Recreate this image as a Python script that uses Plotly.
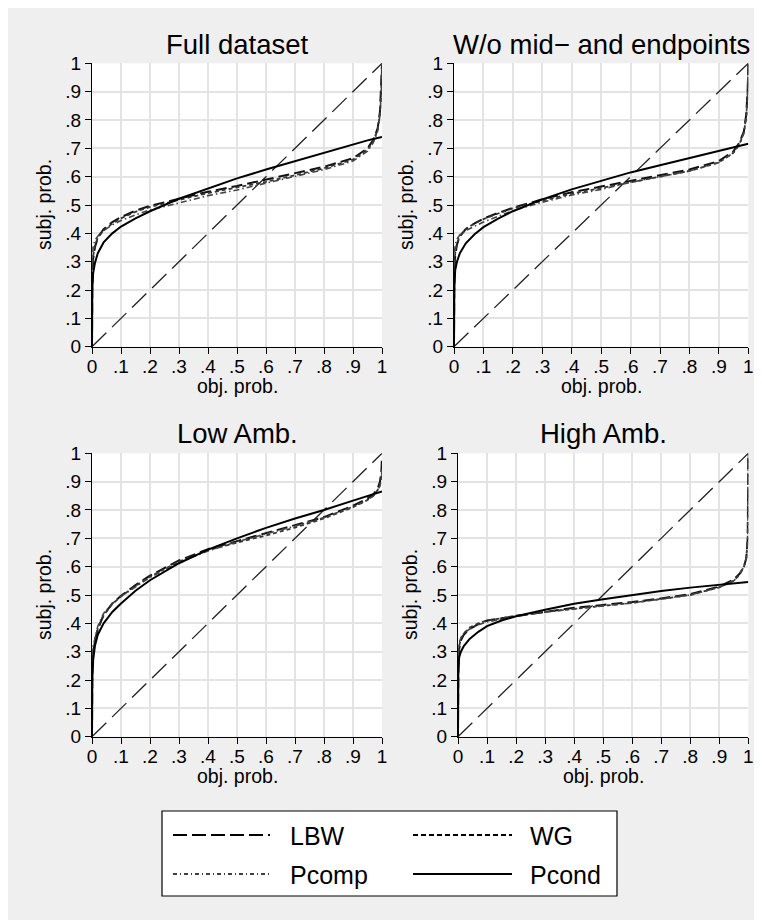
import plotly.graph_objects as go

# ---------------- data ----------------
X = [0, 0.001, 0.004, 0.01, 0.02, 0.04, 0.07, 0.1, 0.15, 0.2, 0.3, 0.4, 0.5,
     0.6, 0.7, 0.8, 0.9, 0.95, 0.97, 0.985, 0.993, 0.998, 1.0]

PANEL_TITLES = ["Full dataset", "W/o mid\u2212 and endpoints", "Low Amb.", "High Amb."]
SERIES = ["LBW", "WG", "Pcomp", "Pcond"]
X_TITLE = "obj. prob."
Y_TITLE = "subj. prob."

FULL_LBW = [0, .22, .31, .35, .385, .415, .44, .457, .48, .497, .522, .547, .567, .59, .612, .635, .665, .70, .73, .77, .83, .92, 1.0]
FULL_WG = [0, .24, .32, .355, .385, .41, .435, .453, .476, .493, .518, .542, .562, .582, .605, .63, .66, .695, .725, .765, .82, .91, 1.0]
FULL_PCOMP = [0, .30, .355, .375, .39, .41, .43, .445, .465, .483, .507, .533, .553, .577, .60, .625, .655, .69, .72, .76, .82, .91, 1.0]
FULL_PCOND = [0, .20, .26, .295, .33, .368, .40, .424, .453, .478, .522, .559, .594, .625, .655, .685, .715, .728, .733, .736, .738, .739, .74]

WO_LBW = [0, .24, .32, .36, .39, .415, .435, .452, .472, .49, .52, .545, .565, .585, .605, .625, .655, .69, .72, .76, .82, .91, 1.0]
WO_WG = [0, .25, .33, .365, .39, .415, .435, .45, .47, .488, .515, .54, .56, .58, .60, .62, .65, .685, .715, .755, .81, .90, 1.0]
WO_PCOMP = [0, .32, .36, .38, .395, .41, .425, .44, .46, .48, .51, .535, .555, .58, .60, .62, .65, .685, .715, .755, .81, .90, 1.0]
WO_PCOND = [0, .20, .27, .30, .33, .365, .397, .422, .452, .478, .52, .555, .585, .615, .64, .665, .69, .703, .708, .712, .714, .715, .716]

LOW_LBW = [0, .23, .30, .34, .38, .43, .47, .497, .535, .568, .622, .662, .69, .718, .745, .775, .815, .84, .855, .875, .90, .94, .99]
LOW_WG = [0, .23, .30, .34, .38, .428, .468, .495, .532, .565, .618, .658, .685, .71, .738, .77, .81, .835, .85, .87, .89, .92, .96]
LOW_PCOMP = [0, .26, .32, .35, .39, .435, .47, .495, .53, .562, .615, .655, .688, .715, .743, .773, .812, .835, .85, .868, .885, .91, .94]
LOW_PCOND = [0, .20, .27, .32, .36, .40, .44, .47, .515, .552, .612, .66, .70, .737, .77, .80, .833, .848, .854, .859, .862, .864, .865]

HIGH_LBW = [0, .25, .31, .34, .36, .38, .397, .41, .418, .425, .44, .455, .465, .475, .488, .503, .53, .555, .575, .60, .63, .70, 1.0]
HIGH_WG = [0, .26, .32, .345, .365, .385, .40, .41, .418, .427, .44, .452, .462, .472, .486, .50, .527, .55, .572, .60, .63, .70, 1.0]
HIGH_PCOMP = [0, .30, .33, .35, .365, .38, .395, .405, .415, .425, .44, .45, .462, .472, .486, .50, .527, .55, .572, .60, .63, .70, 1.0]
HIGH_PCOND = [0, .22, .28, .30, .32, .345, .37, .39, .41, .425, .448, .469, .485, .50, .514, .526, .536, .541, .543, .544, .545, .546, .546]

DIAG = [0, 1]

TICK_VALS = [0, .1, .2, .3, .4, .5, .6, .7, .8, .9, 1]
TICK_TEXT = ["0", ".1", ".2", ".3", ".4", ".5", ".6", ".7", ".8", ".9", "1"]

PANELS = [
    [FULL_LBW, FULL_WG, FULL_PCOMP, FULL_PCOND],
    [WO_LBW, WO_WG, WO_PCOMP, WO_PCOND],
    [LOW_LBW, LOW_WG, LOW_PCOMP, LOW_PCOND],
    [HIGH_LBW, HIGH_WG, HIGH_PCOMP, HIGH_PCOND],
]

# ---------------- styling / layout ----------------
OFF = 8                  # page body margin in the browser
W, H = 762 - OFF, 920 - OFF
FONT = "Liberation Sans, Arial, Helvetica, sans-serif"

def px_x(p):
    return (p - OFF) / W

def px_y(p):
    return 1 - (p - OFF) / H

# plot-area pixel boxes on screen (left, right, top, bottom)
BOXES = [
    (92, 382, 63.3, 346.7),
    (454, 748.3, 63.3, 346.7),
    (92, 382, 453.3, 736.7),
    (458, 748.3, 453.3, 736.7),
]
TITLE_Y = [44, 44, 434, 434]

STYLES = {
    "LBW": dict(color="#111111", width=2.0, dash="11px,5px"),
    "WG": dict(color="#333333", width=1.8, dash="4px,3px"),
    "Pcomp": dict(color="#444444", width=1.6, dash="6px,3px,1.5px,3px"),
    "Pcond": dict(color="#000000", width=2.0, dash="solid"),
}
DIAG_STYLE = dict(color="#222222", width=1.3, dash="20px,8px")

fig = go.Figure()
layout = dict(
    width=W, height=H,
    paper_bgcolor="#efefef", plot_bgcolor="#ffffff",
    margin=dict(l=0, r=0, t=0, b=0, pad=0, autoexpand=False),
    showlegend=False,
    font=dict(family=FONT, color="#000000"),
    annotations=[], shapes=[],
)

for i, (box, series_vals) in enumerate(zip(BOXES, PANELS)):
    n = "" if i == 0 else str(i + 1)
    xa, ya = "x" + n, "y" + n
    l, r, t, b = box
    axis_common = dict(
        range=[0, 1], tickvals=TICK_VALS, ticktext=TICK_TEXT,
        showline=True, linecolor="#000000", linewidth=1.2,
        ticks="outside", ticklen=6, tickwidth=1.2, tickcolor="#000000",
        showgrid=True, gridcolor="#e3e3e3", gridwidth=1.6, zeroline=False,
        tickfont=dict(size=19, family=FONT, color="#000000"),
        fixedrange=True, automargin=False,
    )
    layout["xaxis" + n] = dict(axis_common, domain=[px_x(l), px_x(r)], anchor=ya,
                               ticklabelstandoff=-4)
    layout["yaxis" + n] = dict(axis_common, domain=[px_y(b), px_y(t)], anchor=xa)
    # 45-degree reference line
    fig.add_trace(go.Scatter(x=DIAG, y=DIAG, mode="lines", line=DIAG_STYLE,
                             xaxis=xa, yaxis=ya, hoverinfo="skip"))
    for name, vals in zip(SERIES, series_vals):
        fig.add_trace(go.Scatter(x=X, y=vals, mode="lines", name=name,
                                 line=STYLES[name], xaxis=xa, yaxis=ya))
    # panel title
    layout["annotations"].append(dict(
        text=PANEL_TITLES[i], xref="paper", yref="paper",
        x=px_x((l + r) / 2), y=px_y(TITLE_Y[i]), xanchor="center", yanchor="middle",
        showarrow=False, font=dict(size=27.5, family=FONT, color="#000000"),
    ))
    # axis titles
    layout["annotations"].append(dict(
        text=X_TITLE, xref="paper", yref="paper",
        x=px_x((l + r) / 2), y=px_y(b + 39), xanchor="center", yanchor="middle",
        showarrow=False, font=dict(size=19.5, family=FONT, color="#000000"),
    ))
    layout["annotations"].append(dict(
        text=Y_TITLE, xref="paper", yref="paper", textangle=-90,
        x=px_x(l - 48), y=px_y((t + b) / 2), xanchor="center", yanchor="middle",
        showarrow=False, font=dict(size=19.5, family=FONT, color="#000000"),
    ))

# ---------------- legend (drawn box) ----------------
layout["shapes"].append(dict(
    type="rect", xref="paper", yref="paper",
    x0=px_x(162), x1=px_x(617), y0=px_y(896), y1=px_y(811),
    line=dict(color="#000000", width=1.2), fillcolor="#ffffff", layer="below",
))
LEG_POS = {
    "LBW": (173, 270, 288, 835),
    "WG": (413, 512, 528, 835),
    "Pcomp": (173, 270, 288, 874),
    "Pcond": (413, 512, 528, 874),
}
LEG_STYLE = {
    "LBW": dict(color="#000000", width=2.0, dash="14px,5px"),
    "WG": dict(color="#000000", width=1.8, dash="5px,3px"),
    "Pcomp": dict(color="#000000", width=1.6, dash="4px,3px,1px,3px"),
    "Pcond": dict(color="#000000", width=2.0, dash="solid"),
}
for name in SERIES:
    x0, x1, tx, ty = LEG_POS[name]
    layout["shapes"].append(dict(
        type="line", xref="paper", yref="paper",
        x0=px_x(x0), x1=px_x(x1), y0=px_y(ty), y1=px_y(ty),
        line=LEG_STYLE[name],
    ))
    layout["annotations"].append(dict(
        text=name, xref="paper", yref="paper", x=px_x(tx), y=px_y(ty + 1),
        xanchor="left", yanchor="middle", showarrow=False,
        font=dict(size=25, family=FONT, color="#000000"),
    ))

fig.update_layout(**layout)
fig.write_html("out.html")
